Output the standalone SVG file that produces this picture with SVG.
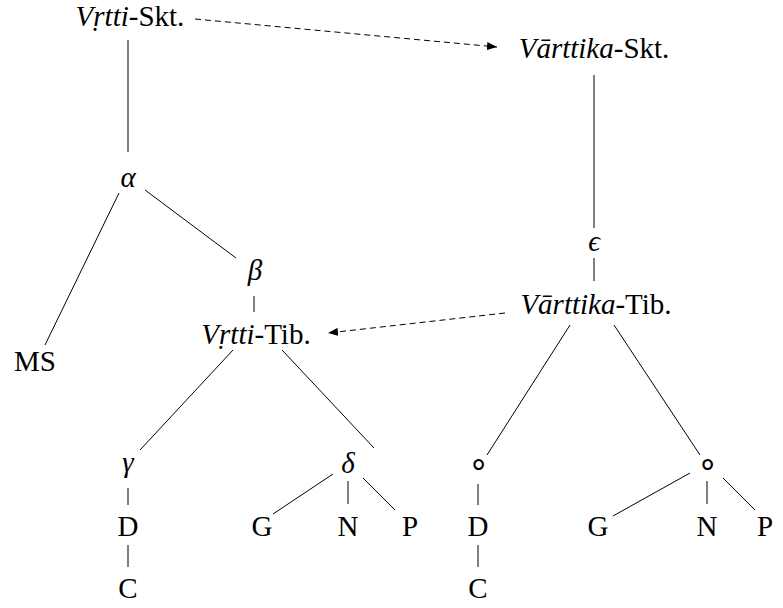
<svg xmlns="http://www.w3.org/2000/svg" width="783" height="608" viewBox="0 0 783 608" font-family="Liberation Serif, Times New Roman, serif">
<style>
text{font-size:29px;fill:#000;text-anchor:middle}
.i{font-style:italic}
.o{font-size:34px}
.e line{stroke:#000;stroke-width:1}
.d{stroke:#000;stroke-width:1;stroke-dasharray:6 4;fill:none}
</style>
<defs>
<marker id="ah" viewBox="0 0 10 8" refX="10" refY="4" markerWidth="10" markerHeight="8" markerUnits="userSpaceOnUse" orient="auto">
<path d="M0,0 L10,4 L0,8 Z" fill="#000"/>
</marker>
</defs>
<rect width="783" height="608" fill="#fff"/>
<g id="edges" class="e">
<line x1="128" y1="40" x2="128" y2="152"/>
<line x1="119" y1="193" x2="45" y2="345"/>
<line x1="145" y1="190" x2="236" y2="258"/>
<line x1="254" y1="296" x2="254" y2="312"/>
<line x1="233" y1="350" x2="140" y2="450"/>
<line x1="282" y1="350" x2="374" y2="448"/>
<line x1="128" y1="488" x2="128" y2="505"/>
<line x1="128" y1="545" x2="128" y2="567"/>
<line x1="333" y1="474" x2="273" y2="514"/>
<line x1="348" y1="481" x2="348" y2="504"/>
<line x1="363" y1="478" x2="395" y2="510"/>
<line x1="594" y1="75" x2="594" y2="228"/>
<line x1="594" y1="258" x2="594" y2="281"/>
<line x1="570" y1="325" x2="487" y2="455"/>
<line x1="614" y1="325" x2="700" y2="455"/>
<line x1="478" y1="484" x2="478" y2="505"/>
<line x1="478" y1="545" x2="478" y2="567"/>
<line x1="690" y1="473" x2="613" y2="516"/>
<line x1="707" y1="481" x2="707" y2="504"/>
<line x1="723" y1="478" x2="755" y2="510"/>
<path class="d" d="M195,19 L497,47" marker-end="url(#ah)"/>
<path class="d" d="M505,313 L328,333" marker-end="url(#ah)"/>
</g>
<g id="vrtti-skt"><text x="130" y="26"><tspan class="i">Vṛtti</tspan>-Skt.</text></g>
<g id="varttika-skt"><text x="594" y="58"><tspan class="i">Vārttika</tspan>-Skt.</text></g>
<g id="alpha"><text class="i" x="128" y="187">α</text></g>
<g id="beta"><text class="i" x="255" y="280">β</text></g>
<g id="ms"><text x="35" y="371">MS</text></g>
<g id="vrtti-tib"><text x="256" y="344"><tspan class="i">Vṛtti</tspan>-Tib.</text></g>
<g id="epsilon"><text class="i" x="594" y="251">ϵ</text></g>
<g id="varttika-tib"><text x="596" y="314"><tspan class="i">Vārttika</tspan>-Tib.</text></g>
<g id="gamma"><text class="i" x="128" y="472">γ</text></g>
<g id="delta"><text class="i" x="348" y="473">δ</text></g>
<g id="d1"><text x="128" y="536">D</text></g>
<g id="c1"><text x="128" y="598">C</text></g>
<g id="g1"><text x="262" y="536">G</text></g>
<g id="n1"><text x="348" y="536">N</text></g>
<g id="p1"><text x="410" y="536">P</text></g>
<g id="circ1"><text class="o" x="478" y="475">∘</text></g>
<g id="circ2"><text class="o" x="707" y="475">∘</text></g>
<g id="d2"><text x="478" y="536">D</text></g>
<g id="c2"><text x="478" y="598">C</text></g>
<g id="g2"><text x="598" y="536">G</text></g>
<g id="n2"><text x="707" y="536">N</text></g>
<g id="p2"><text x="765" y="536">P</text></g>
</svg>
